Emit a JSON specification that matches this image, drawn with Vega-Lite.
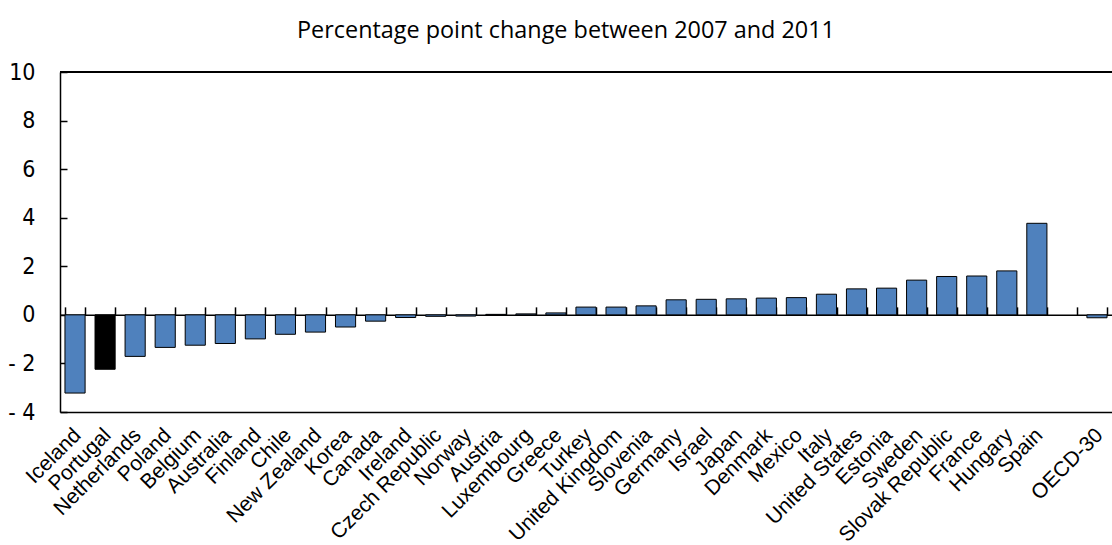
{
  "$schema": "https://vega.github.io/schema/vega-lite/v6.json",
  "width": 1052,
  "height": 340,
  "autosize": {"type": "none"},
  "padding": {"left": 60, "top": 72, "right": 0, "bottom": 133},
  "background": "white",
  "config": {"view": {"stroke": null}},
  "title": {
    "text": "Percentage point change between 2007 and 2011",
    "font": "Open Sans",
    "fontSize": 23.4,
    "fontWeight": "normal",
    "color": "black",
    "anchor": "middle",
    "frame": "group",
    "baseline": "alphabetic",
    "offset": 39,
    "dx": -20,
    "dy": 39
  },
  "data": {
    "values": [
      {"country": "Iceland", "value": -3.22, "group": "other"},
      {"country": "Portugal", "value": -2.24, "group": "highlight"},
      {"country": "Netherlands", "value": -1.71, "group": "other"},
      {"country": "Poland", "value": -1.34, "group": "other"},
      {"country": "Belgium", "value": -1.25, "group": "other"},
      {"country": "Australia", "value": -1.18, "group": "other"},
      {"country": "Finland", "value": -0.99, "group": "other"},
      {"country": "Chile", "value": -0.8, "group": "other"},
      {"country": "New Zealand", "value": -0.71, "group": "other"},
      {"country": "Korea", "value": -0.5, "group": "other"},
      {"country": "Canada", "value": -0.26, "group": "other"},
      {"country": "Ireland", "value": -0.11, "group": "other"},
      {"country": "Czech Republic", "value": -0.06, "group": "other"},
      {"country": "Norway", "value": -0.05, "group": "other"},
      {"country": "Austria", "value": 0.02, "group": "other"},
      {"country": "Luxembourg", "value": 0.04, "group": "other"},
      {"country": "Greece", "value": 0.08, "group": "other"},
      {"country": "Turkey", "value": 0.32, "group": "other"},
      {"country": "United Kingdom", "value": 0.32, "group": "other"},
      {"country": "Slovenia", "value": 0.37, "group": "other"},
      {"country": "Germany", "value": 0.62, "group": "other"},
      {"country": "Israel", "value": 0.64, "group": "other"},
      {"country": "Japan", "value": 0.66, "group": "other"},
      {"country": "Denmark", "value": 0.69, "group": "other"},
      {"country": "Mexico", "value": 0.71, "group": "other"},
      {"country": "Italy", "value": 0.85, "group": "other"},
      {"country": "United States", "value": 1.07, "group": "other"},
      {"country": "Estonia", "value": 1.1, "group": "other"},
      {"country": "Sweden", "value": 1.43, "group": "other"},
      {"country": "Slovak Republic", "value": 1.58, "group": "other"},
      {"country": "France", "value": 1.6, "group": "other"},
      {"country": "Hungary", "value": 1.81, "group": "other"},
      {"country": "Spain", "value": 3.77, "group": "other"},
      {"country": "OECD-30", "value": -0.12, "group": "other"}
    ]
  },
  "resolve": {"axis": {"x": "independent"}},
  "layer": [
    {
      "mark": {"type": "rule", "color": "black", "strokeWidth": 1.5},
      "encoding": {"y": {"datum": 10, "type": "quantitative"}}
    },
    {
      "mark": {"type": "bar", "stroke": "black", "strokeWidth": 1},
      "encoding": {
        "x": {
          "field": "country",
          "type": "nominal",
          "sort": null,
          "scale": {
            "domain": ["Iceland", "Portugal", "Netherlands", "Poland", "Belgium", "Australia", "Finland", "Chile", "New Zealand", "Korea", "Canada", "Ireland", "Czech Republic", "Norway", "Austria", "Luxembourg", "Greece", "Turkey", "United Kingdom", "Slovenia", "Germany", "Israel", "Japan", "Denmark", "Mexico", "Italy", "United States", "Estonia", "Sweden", "Slovak Republic", "France", "Hungary", "Spain", " ", "OECD-30"],
            "paddingInner": 0.33,
            "paddingOuter": 0.165
          },
          "axis": {
            "title": null,
            "orient": "bottom",
            "labelAngle": -45,
            "labelFont": "Liberation Sans",
            "labelFontSize": 21,
            "labelColor": "black",
            "labelOverlap": false,
            "labelLimit": 0,
            "labelBound": false,
            "labelPadding": 12,
            "labelOffset": -5,
            "ticks": false,
            "domain": true,
            "domainColor": "black",
            "domainWidth": 1.5,
            "grid": false
          }
        },
        "y": {
          "field": "value",
          "type": "quantitative",
          "scale": {"domain": [-4, 10], "nice": false, "zero": false},
          "axis": {
            "title": null,
            "values": [-4, -2, 0, 2, 4, 6, 8, 10],
            "labelExpr": "datum.value < 0 ? '- ' + abs(datum.value) : datum.label",
            "labelFont": "DejaVu Sans Condensed, Roboto, sans-serif",
            "labelFontSize": 23,
            "labelColor": "black",
            "labelPadding": 32,
            "tickSize": -7,
            "tickColor": "black",
            "tickWidth": 1.5,
            "domainColor": "black",
            "domainWidth": 1.5,
            "grid": false
          }
        },
        "fill": {
          "field": "group",
          "type": "nominal",
          "scale": {"domain": ["other", "highlight"], "range": ["#4F81BD", "#000000"]},
          "legend": null
        }
      }
    },
    {
      "mark": {"type": "bar", "opacity": 0},
      "encoding": {
        "x": {
          "field": "country",
          "type": "nominal",
          "sort": null,
          "axis": {
            "title": null,
            "orient": "top",
            "offset": -242.857,
            "labels": false,
            "tickBand": "extent",
            "ticks": true,
            "tickSize": 8,
            "tickColor": "black",
            "tickWidth": 1.5,
            "domain": true,
            "domainColor": "black",
            "domainWidth": 1.5,
            "grid": false
          }
        },
        "y": {"field": "value", "type": "quantitative"}
      }
    }
  ]
}
